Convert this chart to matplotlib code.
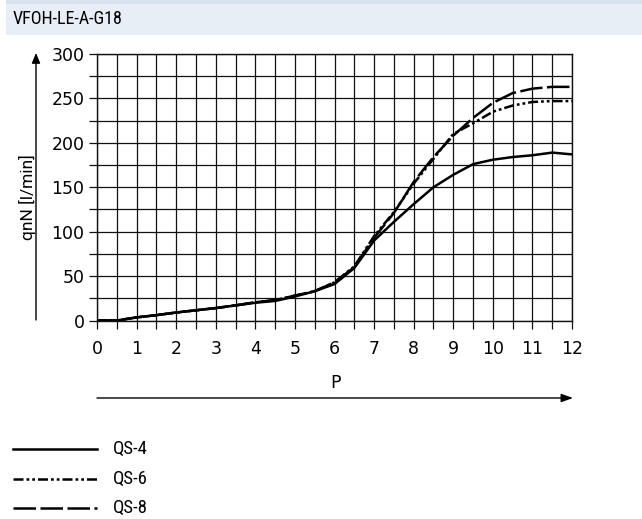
#!/usr/bin/env python3
"""Flow rate qnN over pressure P for VFOH-LE-A-G18 with QS-4/6/8 fittings."""
import matplotlib

matplotlib.use("Agg")
import matplotlib.pyplot as plt
from matplotlib import font_manager
from matplotlib.lines import Line2D
from matplotlib.patches import Rectangle, FancyArrowPatch
from matplotlib.ticker import MultipleLocator

# data (pressure in bar, flow in l/min)
P = [0, 0.5, 1, 1.5, 2, 2.5, 3, 3.5, 4, 4.5, 5, 5.5, 6,
     6.5, 7, 7.5, 8, 8.5, 9, 9.5, 10, 10.5, 11, 11.5, 12]
QS4 = [0, 0, 3.5, 6, 9, 11.5, 14, 17, 20, 22, 27, 33, 41,
       59, 90, 111, 131, 150, 164, 176, 181, 184, 186, 189, 187]
QS6 = [0, 0, 3.5, 6, 9, 11.5, 14, 17, 20.5, 23, 28, 33, 43,
       61, 95, 122, 154, 182, 210, 222, 235, 242, 246, 247, 247]
QS8 = [0, 0, 3.5, 6, 9, 11.5, 14, 17, 20.5, 23, 28, 33, 43,
       60, 93, 121, 156, 184, 208, 228, 245, 256, 261, 263, 263]
LABELS = ["QS-4", "QS-6", "QS-8"]
TITLE = "VFOH-LE-A-G18"

STYLES = ["-", (0, (4, 1.2, 1.1, 1.2, 1.1, 1.2)), (0, (9, 1.8))]

avail = {f.name for f in font_manager.fontManager.ttflist}
COND = next((n for n in ["Liberation Sans Narrow", "DejaVu Sans Condensed",
                         "Roboto Condensed", "Open Sans Condensed"]
             if n in avail), "Roboto")

W, H = 642, 519
fig = plt.figure(figsize=(W / 100, H / 100), dpi=100)

# header band
fig.add_artist(Rectangle((6 / W, 1 - 4 / H), 1, 4 / H, transform=fig.transFigure,
                         fc="#d8e2ee", ec="none"))
fig.add_artist(Rectangle((6 / W, 1 - 35 / H), 1, 31 / H, transform=fig.transFigure,
                         fc="#e8eef6", ec="none"))
fig.text(13 / W, 1 - 19.5 / H, TITLE, fontsize=13, family=COND, va="center", ha="left")

ax = fig.add_axes([97 / W, 1 - 320.5 / H, 475 / W, 266.5 / H])
for q, ls in zip([QS4, QS6, QS8], STYLES):
    ax.plot(P, q, color="black", lw=1.8, ls=ls, solid_capstyle="butt",
            dash_capstyle="butt", zorder=3)

ax.set_xlim(0, 12)
ax.set_ylim(0, 300)
ax.xaxis.set_major_locator(MultipleLocator(1))
ax.xaxis.set_minor_locator(MultipleLocator(0.5))
ax.yaxis.set_major_locator(MultipleLocator(50))
ax.yaxis.set_minor_locator(MultipleLocator(25))
ax.grid(which="both", color="#111111", lw=0.9)
ax.set_axisbelow(True)
for s in ax.spines.values():
    s.set_color("#111111")
    s.set_linewidth(1.0)
ax.tick_params(which="both", direction="out", length=6, width=0.9,
               color="#111111", labelsize=12.5, pad=8)
ax.tick_params(axis="y", which="both", pad=3)

# axis arrows and labels
fig.add_artist(FancyArrowPatch((36 / W, 1 - 320 / H), (36 / W, 1 - 53 / H),
                               transform=fig.transFigure,
                               arrowstyle="-|>,head_length=6,head_width=2.5",
                               lw=1.0, color="black", shrinkA=0, shrinkB=0))
fig.text(27 / W, 1 - 197 / H, "qnN [l/min]", rotation=90, fontsize=12.5,
         family="Roboto", va="center", ha="center")
fig.add_artist(FancyArrowPatch((97 / W, 1 - 398 / H), (573 / W, 1 - 398 / H),
                               transform=fig.transFigure,
                               arrowstyle="-|>,head_length=7,head_width=2.5",
                               lw=1.0, color="black", shrinkA=0, shrinkB=0))
fig.text(335 / W, 1 - 383 / H, "P", fontsize=12.5, va="center", ha="center")

# legend
for i, (lab, ls) in enumerate(zip(LABELS, STYLES)):
    yy = 1 - (449 + 29.5 * i) / H
    fig.add_artist(Line2D([13 / W, 97 / W], [yy, yy], transform=fig.transFigure,
                          color="black", lw=1.8, ls=ls))
    fig.text(113 / W, yy, lab, fontsize=13.5, family=COND, va="center", ha="left")

fig.savefig("out.png", dpi=100)
